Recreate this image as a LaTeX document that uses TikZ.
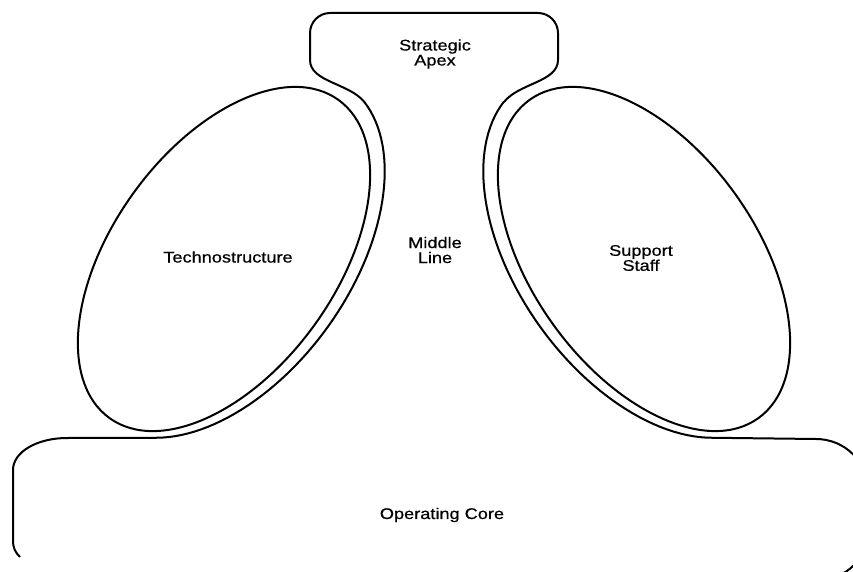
\documentclass[tikz,border=0pt]{standalone}
\usepackage{fontspec}
\newfontfamily\partfont{Liberation Sans}[FakeStretch=1.18, FakeBold=0.6]
\usepackage{tikz}

\tikzset{
  outline/.style={line width=2pt, line join=round, black},
  partlabel/.style={align=center, inner sep=0pt, font=\partfont\fontsize{15.4}{15}\selectfont}
}

\begin{document}
\begin{tikzpicture}[x=1pt,y=-1pt]
  \useasboundingbox (0,0) rectangle (853,572);
  \clip (0,0) rectangle (853,572);

  \coordinate (techcentre) at (224,259);
  \coordinate (supportcentre) at (644,259);

  % technostructure and support staff
  \draw [outline, rotate around={54.3:(techcentre)}] (techcentre) ellipse [x radius=196, y radius=112];
  \draw [outline, rotate around={-54.3:(supportcentre)}] (supportcentre) ellipse [x radius=196, y radius=112];

  % operating core, middle line and strategic apex in one outline
  \draw [outline] (20,557) .. controls (15,552) and (13,548) .. (13,540)
        -- (13,470) .. controls (13,452) and (37,438) .. (67,438)
        -- plot[domain=157:10, samples=60, variable=\t]
           ({228 + 207*cos(\t)*0.5835 + 123*sin(\t)*0.812}, {255 - 207*cos(\t)*0.812 + 123*sin(\t)*0.5835})
        .. controls (349,83) and (310,82) .. (310,60)
        -- (310,33) .. controls (310,22) and (319,13) .. (330,13)
        -- (538,13) .. controls (549,13) and (558,22) .. (558,33)
        -- (558,60) .. controls (558,82) and (519,83) .. (504,102)
        -- plot[domain=10:157, samples=60, variable=\t]
           ({640 - 207*cos(\t)*0.5835 - 123*sin(\t)*0.812}, {255 - 207*cos(\t)*0.812 + 123*sin(\t)*0.5835})
        -- (816,439) .. controls (845,439) and (868,462) .. (868,491)
        -- (868,530) .. controls (868,558) and (846,580) .. (818,580);

  % labels
  \node [partlabel] (apex) at (435,54) {Strategic\\Apex};
  \node [partlabel] (middle) at (435,250) {Middle\\Line};
  \node [partlabel] (techno) at (228,257) {Technostructure};
  \node [partlabel] (support) at (641,258) {Support\\Staff};
  \node [partlabel] (core) at (442,515) {Operating Core};
\end{tikzpicture}
\end{document}
